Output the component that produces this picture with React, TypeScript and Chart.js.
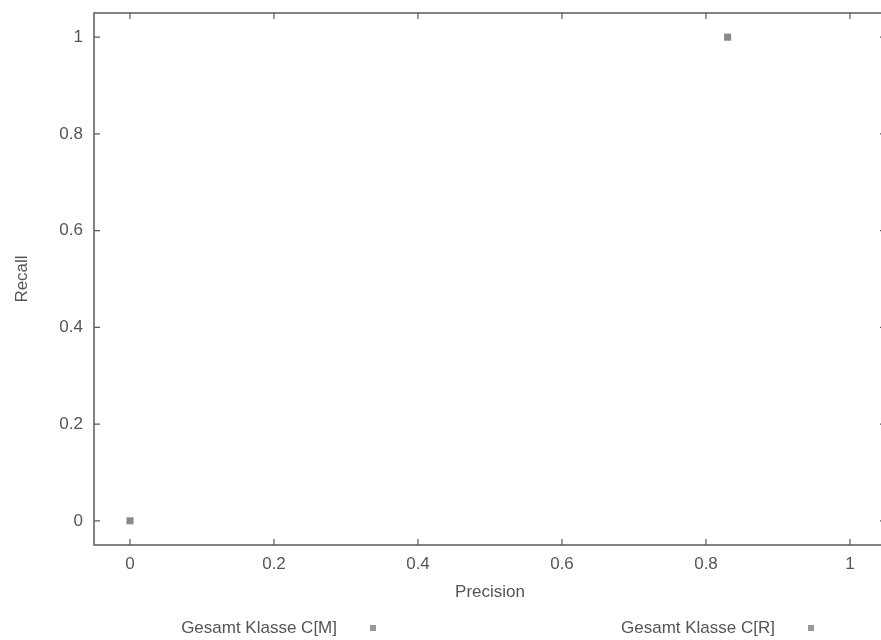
import React, { useEffect, useRef } from "react";
import { Chart, registerables } from "chart.js";

Chart.register(...registerables);

const seriesLabels = ["Gesamt Klasse C[M]", "Gesamt Klasse C[R]"];
const precisionValues = [0, 0.83];
const recallValues = [0, 1];
const xTicks = [0, 0.2, 0.4, 0.6, 0.8, 1];
const yTicks = [0, 0.2, 0.4, 0.6, 0.8, 1];
const xTitle = "Precision";
const yTitle = "Recall";

const TEXT = "#555555";
const AXIS = "#5a5a5a";
const MARK = "#8a8a8a";
const FONT = "'Liberation Sans', Arial, sans-serif";

const fmt = (v: number) => String(Number(v.toFixed(2)));

const framePlugin = {
  id: "gnuFrame",
  afterDraw(chart: any) {
    const { ctx, chartArea } = chart;
    const { left, right, top, bottom } = chartArea;
    const xs = chart.scales.x;
    const ys = chart.scales.y;
    ctx.save();
    ctx.strokeStyle = AXIS;
    ctx.lineWidth = 1.5;
    ctx.strokeRect(left, top, right - left, bottom - top);
    ctx.lineWidth = 1.2;
    const tl = 6;
    ctx.beginPath();
    xTicks.forEach((v) => {
      const px = xs.getPixelForValue(v);
      ctx.moveTo(px, bottom);
      ctx.lineTo(px, bottom - tl);
      ctx.moveTo(px, top);
      ctx.lineTo(px, top + tl);
    });
    yTicks.forEach((v) => {
      const py = ys.getPixelForValue(v);
      ctx.moveTo(left, py);
      ctx.lineTo(left + tl, py);
      ctx.moveTo(right, py);
      ctx.lineTo(right - tl, py);
    });
    ctx.stroke();

    // legend: text followed by marker (gnuplot style key)
    const anchors = [337, 775];
    const ly = 628;
    ctx.font = `17px ${FONT}`;
    ctx.textAlign = "right";
    ctx.textBaseline = "middle";
    chart.data.datasets.forEach((ds: any, i: number) => {
      ctx.fillStyle = TEXT;
      ctx.fillText(ds.label, anchors[i], ly);
      ctx.fillStyle = "#999999";
      ctx.fillRect(anchors[i] + 33, ly - 3, 6, 6);
    });
    ctx.restore();
  },
};

export default function App() {
  const ref = useRef<HTMLCanvasElement | null>(null);
  useEffect(() => {
    if (!ref.current) return;
    const chart = new Chart(ref.current, {
      type: "scatter",
      data: {
        datasets: seriesLabels.map((label, i) => ({
          label,
          data: [{ x: precisionValues[i], y: recallValues[i] }],
          pointStyle: "rect",
          pointRadius: 5,
          pointHoverRadius: 5,
          backgroundColor: MARK,
          borderColor: MARK,
          borderWidth: 0,
        })),
      },
      options: {
        responsive: false,
        animation: false,
        events: [],
        layout: { padding: { top: 13, right: 14, left: 0, bottom: 0 } },
        plugins: {
          legend: { display: false },
          tooltip: { enabled: false },
        },
        scales: {
          x: {
            type: "linear",
            min: -0.05,
            max: 1.05,
            grid: { display: false, drawTicks: false },
            border: { display: false },
            afterBuildTicks: (s: any) => {
              s.ticks = xTicks.map((v) => ({ value: v }));
            },
            afterFit: (s: any) => {
              s.height = 95;
              s.paddingLeft = 0;
              s.paddingRight = 0;
              s.paddingTop = 0;
              s.paddingBottom = 0;
            },
            ticks: {
              padding: 9,
              color: TEXT,
              font: { family: FONT, size: 17 },
              callback: (v: any) => fmt(Number(v)),
              maxRotation: 0,
            },
            title: {
              display: true,
              text: xTitle,
              color: TEXT,
              font: { family: FONT, size: 17 },
              padding: { top: 0, bottom: 37 },
            },
          },
          y: {
            type: "linear",
            min: -0.05,
            max: 1.05,
            grid: { display: false, drawTicks: false },
            border: { display: false },
            afterBuildTicks: (s: any) => {
              s.ticks = yTicks.map((v) => ({ value: v }));
            },
            afterFit: (s: any) => {
              s.width = 94;
              s.paddingLeft = 0;
              s.paddingRight = 0;
              s.paddingTop = 0;
              s.paddingBottom = 0;
            },
            ticks: {
              padding: 11,
              color: TEXT,
              font: { family: FONT, size: 17 },
              callback: (v: any) => fmt(Number(v)),
            },
            title: {
              display: true,
              text: yTitle,
              color: TEXT,
              font: { family: FONT, size: 17 },
              padding: { top: 12, bottom: 0 },
            },
          },
        },
      },
      plugins: [framePlugin],
    });
    return () => chart.destroy();
  }, []);

  return (
    <div
      style={{
        position: "fixed",
        left: 0,
        top: 0,
        width: 881,
        height: 640,
        overflow: "hidden",
        background: "#ffffff",
      }}
    >
      <canvas ref={ref} width={900} height={640} style={{ display: "block" }} />
    </div>
  );
}
